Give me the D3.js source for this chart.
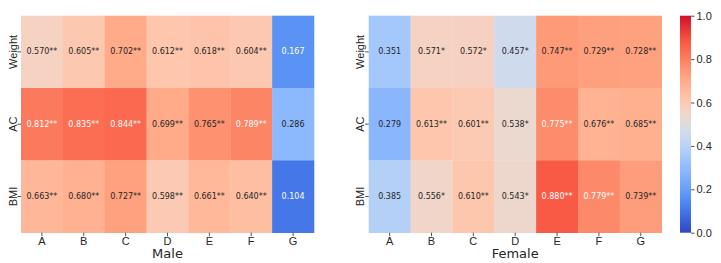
<!DOCTYPE html>
<html>
<head>
<meta charset="utf-8">
<script src="https://cdn.jsdelivr.net/npm/d3@7"></script>
<style>
  body { margin: 0; background: #fff; }
  svg { font-family: "DejaVu Sans", sans-serif; }
  .tick text { fill: #262626; font-size: 11px; }
  .tick line { stroke: #262626; stroke-width: 0.8; }
  .domain { display: none; }
</style>
</head>
<body>
<div id="chart"></div>
<script>
var cols = ['A', 'B', 'C', 'D', 'E', 'F', 'G'];
var rows = ['Weight', 'AC', 'BMI'];

var maleValues = [
  [0.570, 0.605, 0.702, 0.612, 0.618, 0.604, 0.167],
  [0.812, 0.835, 0.844, 0.699, 0.765, 0.789, 0.286],
  [0.663, 0.680, 0.727, 0.598, 0.661, 0.640, 0.104]
];
var maleSig = [
  ['**', '**', '**', '**', '**', '**', ''],
  ['**', '**', '**', '**', '**', '**', ''],
  ['**', '**', '**', '**', '**', '**', '']
];

var femaleValues = [
  [0.351, 0.571, 0.572, 0.457, 0.747, 0.729, 0.728],
  [0.279, 0.613, 0.601, 0.538, 0.775, 0.676, 0.685],
  [0.385, 0.556, 0.610, 0.543, 0.880, 0.779, 0.739]
];
var femaleSig = [
  ['', '*', '*', '*', '**', '**', '**'],
  ['', '**', '**', '*', '**', '**', '**'],
  ['', '*', '**', '*', '**', '**', '**']
];

var colorTicks = [0, 0.2, 0.4, 0.6, 0.8, 1.0];

// colormap stops (a bright coolwarm)
var cmapStops = [0, 0.104, 0.167, 0.28, 0.351, 0.385, 0.457, 0.5, 0.54, 0.57, 0.605, 0.66, 0.702, 0.747, 0.8, 0.844, 0.88, 1.0];
var cmapColors = ['#3046c6', '#4677e8', '#5b93f5', '#8ab6fe', '#a4c8fc', '#b4d0f6', '#cfdbec', '#dddcdc',
  '#ecd8ce', '#f6d2c3', '#fdc8b0', '#ffb89a', '#ffaa88', '#fe9a78', '#fb7f60', '#fb6a50', '#f85a45', '#d0102a'];

var width = 721, height = 263;
var plotTop = 15.7, plotBottom = 232.7;

var color = d3.scaleLinear().domain(cmapStops).range(cmapColors).interpolate(d3.interpolateRgb).clamp(true);

var svg = d3.select('#chart').append('svg')
    .attr('width', width)
    .attr('height', height);

function luminance(c) {
  var rgb = d3.rgb(c);
  var f = function(v) { v = v / 255; return v <= 0.03928 ? v / 12.92 : Math.pow((v + 0.055) / 1.055, 2.4); };
  return 0.2126 * f(rgb.r) + 0.7152 * f(rgb.g) + 0.0722 * f(rgb.b);
}

function heatmap(x0, x1, values, sig, title) {
  var x = d3.scaleBand().domain(cols).range([x0, x1]);
  var y = d3.scaleBand().domain(rows).range([plotTop, plotBottom]);

  var cells = [];
  values.forEach(function(r, i) {
    r.forEach(function(v, j) {
      cells.push({row: rows[i], col: cols[j], v: v, s: sig[i][j]});
    });
  });

  var g = svg.append('g');

  g.selectAll('.cell')
      .data(cells)
    .enter().append('rect')
      .attr('class', 'cell')
      .attr('x', function(d) { return x(d.col); })
      .attr('y', function(d) { return y(d.row); })
      .attr('width', x.bandwidth() + 0.3)
      .attr('height', y.bandwidth() + 0.3)
      .attr('fill', function(d) { return color(d.v); });

  g.selectAll('.label')
      .data(cells)
    .enter().append('text')
      .attr('class', 'label')
      .attr('x', function(d) { return x(d.col) + x.bandwidth() / 2; })
      .attr('y', function(d) { return y(d.row) + y.bandwidth() / 2; })
      .attr('text-anchor', 'middle')
      .attr('dominant-baseline', 'central')
      .style('font-size', '8px')
      .style('fill', function(d) { return luminance(color(d.v)) > 0.408 ? '#262626' : '#ffffff'; })
      .text(function(d) { return d.v.toFixed(3) + d.s; });

  svg.append('g')
      .attr('transform', 'translate(0,' + plotBottom + ')')
      .call(d3.axisBottom(x).tickSize(3.5).tickPadding(1));

  // row labels turned on their side, as in the reference
  svg.append('g')
      .attr('transform', 'translate(' + x0 + ',0)')
      .call(d3.axisLeft(y).tickSize(3.5))
    .selectAll('text')
      .attr('transform', 'translate(-4.5,0) rotate(-90)')
      .attr('x', 0)
      .attr('y', 0)
      .attr('dy', 0)
      .attr('text-anchor', 'middle');

  svg.append('text')
      .attr('x', (x0 + x1) / 2)
      .attr('y', 258)
      .attr('text-anchor', 'middle')
      .style('font-size', '13px')
      .style('fill', '#262626')
      .text(title);
}

heatmap(21, 314, maleValues, maleSig, 'Male');
heatmap(368.7, 661.7, femaleValues, femaleSig, 'Female');

// colorbar
var cbX = 680, cbW = 11;
var cbScale = d3.scaleLinear().domain([0, 1]).range([plotBottom, plotTop]);

var grad = svg.append('defs').append('linearGradient')
    .attr('id', 'cbar')
    .attr('x1', 0).attr('y1', 1).attr('x2', 0).attr('y2', 0);
grad.selectAll('stop')
    .data(d3.range(0, 1.0001, 0.02))
  .enter().append('stop')
    .attr('offset', function(d) { return d; })
    .attr('stop-color', function(d) { return color(d); });

svg.append('rect')
    .attr('x', cbX)
    .attr('y', plotTop)
    .attr('width', cbW)
    .attr('height', plotBottom - plotTop)
    .attr('fill', 'url(#cbar)');

svg.append('g')
    .attr('transform', 'translate(' + (cbX + cbW) + ',0)')
    .call(d3.axisRight(cbScale).tickValues(colorTicks).tickFormat(d3.format('.1f')).tickSize(3.5).tickPadding(2))
  .selectAll('text')
    .style('font-size', '11px');
</script>
</body>
</html>
